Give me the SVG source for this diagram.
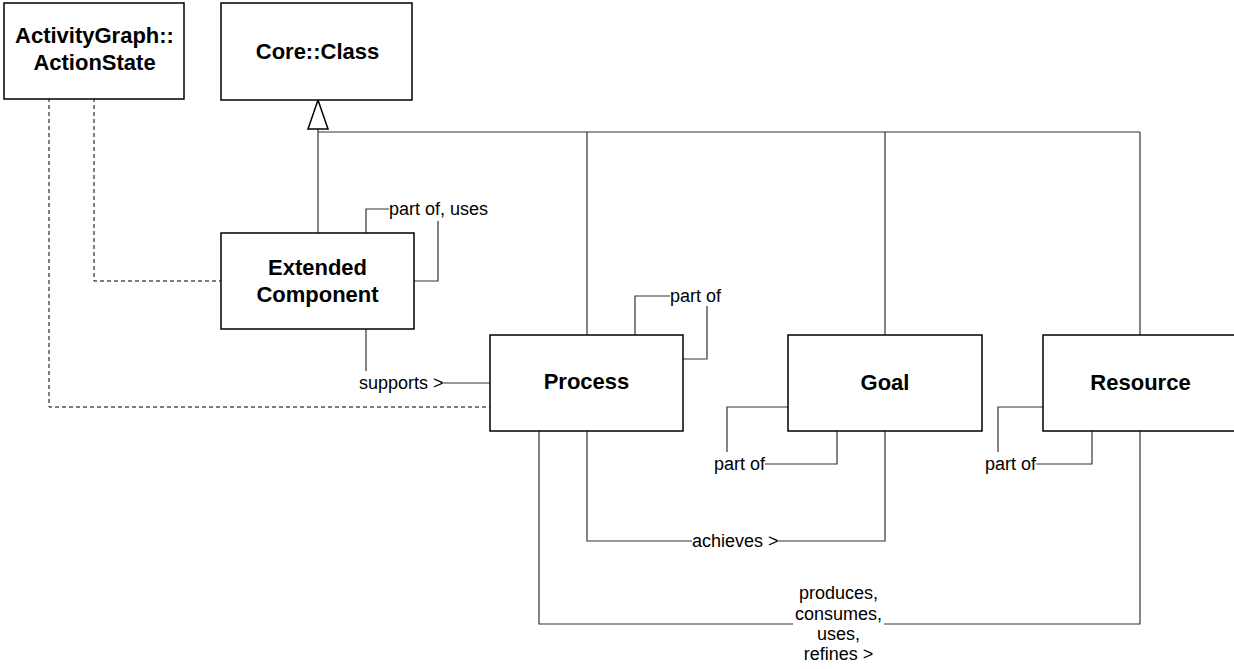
<svg xmlns="http://www.w3.org/2000/svg" width="1234" height="669" viewBox="0 0 1234 669">
  <style>
    .box { fill: #ffffff; stroke: #000000; stroke-width: 1.5; }
    .name { font-family: "Liberation Sans", Arial, sans-serif; font-size: 22px; font-weight: bold; fill: #000000; text-anchor: middle; }
    .lbl { font-family: "Liberation Sans", Arial, sans-serif; font-size: 18px; fill: #000000; }
    .mid { text-anchor: middle; }
    .link { fill: none; stroke: #333333; stroke-width: 1.2; }
    .dash { fill: none; stroke: #000000; stroke-width: 1; stroke-dasharray: 4 3; }
    .gen { fill: #ffffff; stroke: #000000; stroke-width: 1.5; }
  </style>
  <rect width="1234" height="669" fill="#ffffff"/>

  <g id="connectors">
    <!-- dependencies from ActionState -->
    <path class="dash" d="M49,98 V407 H490"/>
    <path class="dash" d="M94,98 V281 H221"/>
    <!-- generalization tree to Core::Class -->
    <path class="link" d="M318,129 V233"/>
    <path class="link" d="M318,132 H1140"/>
    <path class="link" d="M587,132 V335"/>
    <path class="link" d="M885,132 V335"/>
    <path class="link" d="M1140,132 V335"/>
    <polygon class="gen" points="318,100 308,129 328,129"/>
    <!-- Extended Component self association -->
    <path class="link" d="M366,233 V209 H389"/>
    <path class="link" d="M414,281 H438 V221"/>
    <!-- supports -->
    <path class="link" d="M366,329 V371"/>
    <path class="link" d="M443,383 H490"/>
    <!-- Process self association -->
    <path class="link" d="M635,335 V296 H670"/>
    <path class="link" d="M683,359 H707 V306"/>
    <!-- Goal self association -->
    <path class="link" d="M788,407 H727 V452"/>
    <path class="link" d="M765,464 H837 V431"/>
    <!-- Resource self association -->
    <path class="link" d="M1043,407 H998 V452"/>
    <path class="link" d="M1036,464 H1092 V431"/>
    <!-- achieves -->
    <path class="link" d="M587,431 V541 H692"/>
    <path class="link" d="M778,541 H885 V431"/>
    <!-- produces / consumes / uses / refines -->
    <path class="link" d="M539,431 V624 H793"/>
    <path class="link" d="M884,624 H1140 V431"/>

    <text class="lbl" x="389" y="215">part of, uses</text>
    <text class="lbl" x="359" y="389">supports &gt;</text>
    <text class="lbl" x="670" y="302">part of</text>
    <text class="lbl" x="714" y="470">part of</text>
    <text class="lbl" x="985" y="470">part of</text>
    <text class="lbl" x="692" y="547">achieves &gt;</text>
    <text class="lbl mid" x="838.5" y="599">produces,</text>
    <text class="lbl mid" x="838.5" y="620">consumes,</text>
    <text class="lbl mid" x="838.5" y="640">uses,</text>
    <text class="lbl mid" x="838.5" y="660">refines &gt;</text>
  </g>

  <g id="action-state">
    <rect class="box" x="4" y="3" width="180" height="96"/>
    <text class="name" x="94.5" y="43">ActivityGraph::</text>
    <text class="name" x="94.5" y="70">ActionState</text>
  </g>

  <g id="core-class">
    <rect class="box" x="221" y="3" width="191" height="97"/>
    <text class="name" x="317.5" y="59">Core::Class</text>
  </g>

  <g id="extended-component">
    <rect class="box" x="221" y="233" width="193" height="96"/>
    <text class="name" x="317.5" y="275">Extended</text>
    <text class="name" x="317.5" y="302">Component</text>
  </g>

  <g id="process">
    <rect class="box" x="490" y="335" width="193" height="96"/>
    <text class="name" x="586.5" y="389">Process</text>
  </g>

  <g id="goal">
    <rect class="box" x="788" y="335" width="194" height="96"/>
    <text class="name" x="885" y="390">Goal</text>
  </g>

  <g id="resource">
    <rect class="box" x="1043" y="335" width="200" height="96"/>
    <text class="name" x="1140.5" y="390">Resource</text>
  </g>
</svg>
